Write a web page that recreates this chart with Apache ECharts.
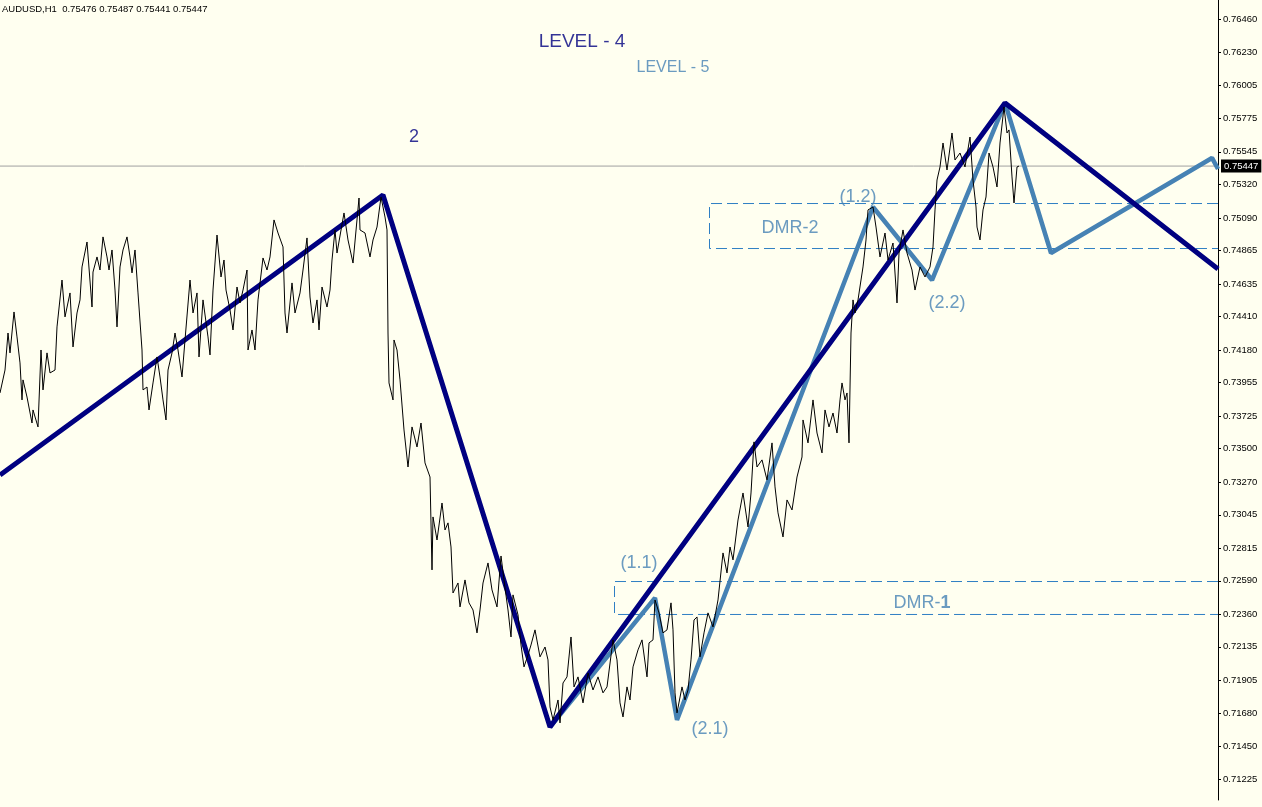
<!DOCTYPE html>
<html><head><meta charset="utf-8">
<script src="https://cdn.jsdelivr.net/npm/echarts@6/dist/echarts.min.js"></script>
<style>html,body{margin:0;padding:0;background:#FFFFF0}#c{width:1262px;height:807px}</style>
</head><body><div id="c"></div>
<script>
// ---- data ----
const header = 'AUDUSD,H1  0.75476 0.75487 0.75441 0.75447';
const lastPrice = 0.75447;
const tickLabels = ['0.76460','0.76230','0.76005','0.75775','0.75545','0.75320','0.75090','0.74865','0.74635','0.74410','0.74180','0.73955','0.73725','0.73500','0.73270','0.73045','0.72815','0.72590','0.72360','0.72135','0.71905','0.71680','0.71450','0.71225'];

const priceBars = [0,5,8,10,14,17,20,22,23,27,32,33,38,41,43,47,50,55,57,62,65,70,73,77,80,82,87,92,93,97,100,103,107,109,112,115,117,120,123,127,130,132,135,138,142,143,147,149,153,157,160,163,166,168,172,175,178,182,185,190,193,197,199,203,208,210,213,217,221,224,226,230,233,237,240,243,247,248,252,255,258,263,267,270,274,278,283,285,287,292,295,300,303,307,310,313,317,319,322,327,330,332,335,337,344,348,353,359,360,365,370,373,377,381,385,387,388,389,393,394,397,400,404,408,412,417,421,425,430,432,433,437,442,445,448,451,453,458,460,465,469,473,477,480,483,488,492,497,501,505,508,511,513,518,521,524,528,531,535,540,545,548,550,553,558,560,563,567,571,574,578,583,588,593,598,603,607,613,617,620,623,627,630,633,638,642,647,649,653,655,659,663,667,671,673,675,677,682,685,688,691,694,697,700,704,708,713,718,723,727,730,733,738,743,748,751,754,757,762,767,772,775,778,783,787,792,797,802,803,808,813,817,822,825,829,833,837,840,842,845,847,849,851,853,855,858,861,863,866,868,873,876,880,885,888,893,897,899,903,907,912,915,920,925,930,933,935,937,940,943,947,952,955,960,965,970,973,976,977,980,983,986,989,993,997,1000,1004,1007,1009,1012,1014,1017,1019];
const priceClose = [0.73884,0.74042,0.74297,0.74160,0.74442,0.74270,0.74091,0.73836,0.73974,0.73856,0.73677,0.73767,0.73650,0.74180,0.73905,0.74160,0.74022,0.74042,0.74339,0.74662,0.74408,0.74573,0.74201,0.74435,0.74525,0.74752,0.74924,0.74476,0.74717,0.74821,0.74731,0.74959,0.74821,0.74731,0.74869,0.74593,0.74339,0.74752,0.74869,0.74959,0.74821,0.74711,0.74869,0.74573,0.74180,0.73905,0.73925,0.73767,0.73953,0.74132,0.73994,0.73836,0.73698,0.74042,0.74160,0.74297,0.74180,0.73994,0.74249,0.74662,0.74435,0.74573,0.74132,0.74525,0.74270,0.74146,0.74593,0.74972,0.74683,0.74800,0.74593,0.74456,0.74318,0.74614,0.74504,0.74593,0.74731,0.74180,0.74318,0.74180,0.74525,0.74814,0.74731,0.74821,0.75076,0.74986,0.74890,0.74435,0.74297,0.74642,0.74435,0.74573,0.74731,0.74952,0.74545,0.74366,0.74525,0.74318,0.74614,0.74476,0.74593,0.74800,0.75007,0.74848,0.75124,0.74938,0.74779,0.75227,0.75007,0.74986,0.74821,0.74938,0.75027,0.75234,0.75096,0.75007,0.74297,0.73953,0.73836,0.74249,0.74180,0.73974,0.73629,0.73374,0.73650,0.73512,0.73677,0.73402,0.73305,0.72665,0.73030,0.72871,0.73126,0.72940,0.72989,0.72823,0.72506,0.72575,0.72410,0.72596,0.72438,0.72389,0.72231,0.72389,0.72575,0.72713,0.72527,0.72410,0.72761,0.72541,0.72389,0.72203,0.72493,0.72355,0.72148,0.71997,0.72079,0.72148,0.72252,0.72066,0.72134,0.72045,0.71721,0.71632,0.71769,0.71611,0.71886,0.71928,0.72203,0.71859,0.71928,0.71749,0.71955,0.71838,0.71928,0.71818,0.71859,0.72183,0.72045,0.71749,0.71652,0.71859,0.71769,0.71997,0.72114,0.72183,0.71928,0.72162,0.72183,0.72458,0.72369,0.72231,0.72252,0.72438,0.72252,0.71818,0.71680,0.71859,0.71769,0.71838,0.72045,0.72320,0.72341,0.72066,0.72231,0.72369,0.72272,0.72458,0.72782,0.72644,0.72823,0.72734,0.73009,0.73195,0.72961,0.73195,0.73547,0.73374,0.73423,0.73285,0.73540,0.73237,0.73058,0.72892,0.73147,0.73078,0.73305,0.73443,0.73698,0.73540,0.73836,0.73608,0.73471,0.73767,0.73650,0.73746,0.73608,0.73836,0.73953,0.73836,0.73884,0.73540,0.74297,0.74525,0.74435,0.74525,0.74662,0.74752,0.74938,0.75145,0.75165,0.75027,0.74821,0.74986,0.74800,0.74917,0.74504,0.74848,0.75007,0.74848,0.74731,0.74593,0.74752,0.74683,0.74752,0.74890,0.75145,0.75351,0.75441,0.75606,0.75420,0.75675,0.75489,0.75537,0.75441,0.75647,0.75351,0.75165,0.75027,0.74938,0.75145,0.75234,0.75537,0.75441,0.75303,0.75606,0.75854,0.75675,0.75696,0.75372,0.75193,0.75441,0.75447];

const level4Bars = [0,383,550,1005,1218];
const level4Values = [0.73319,0.75248,0.71583,0.75882,0.74738];
const level5Bars = [550,655,677,873,932,1005,1051,1212,1218];
const level5Values = [0.71583,0.72472,0.71632,0.75165,0.74662,0.75882,0.74848,0.75503,0.75427];

const dmrStartBars = [614.5,709.5];
const dmrTops = [0.72585,0.75189];
const dmrBottoms = [0.72358,0.74879];
const firstBar = 0;
const lastBar = 1218;

const noteTexts = ['LEVEL - 4','LEVEL - 5','2','(1.1)','(2.1)','(1.2)','(2.2)','DMR-2','DMR-{b|1}'];
const noteBars = [582,673,414,639,710,858,947,790,922];
const noteValues = [0.76302,0.76123,0.75647,0.72713,0.71570,0.75234,0.74504,0.75021,0.72438];
// ---- end data ----

const NAVY = '#000080', STEEL = '#4682B4', DASH = '#2f7fc4';
const noteStyles = [
  {color: NAVY, fontSize: 19},
  {color: STEEL, fontSize: 16},
  {color: NAVY, fontSize: 18},
  {color: STEEL, fontSize: 18},{color: STEEL, fontSize: 18},{color: STEEL, fontSize: 18},{color: STEEL, fontSize: 18},
  {color: STEEL, fontSize: 18},{color: STEEL, fontSize: 18}
];

const zip = (a, b) => a.map((x, i) => [x, b[i]]);
const dmrSeries = dmrStartBars.map((s, i) => ({
  type: 'line', silent: true, symbol: 'none', z: 1, animation: false,
  lineStyle: {color: DASH, width: 1, type: [11, 5]},
  data: [[lastBar, dmrTops[i]], [s, dmrTops[i]], [s, dmrBottoms[i]], [lastBar, dmrBottoms[i]]]
}));

const chart = echarts.init(document.getElementById('c'), null, {renderer: 'canvas'});
chart.setOption({
  animation: false,
  backgroundColor: '#FFFFF0',
  textStyle: {fontFamily: 'Liberation Sans, Arial, sans-serif'},
  title: {text: header, left: 2, top: 4, padding: 0, textStyle: {fontSize: 9.5, fontWeight: 'normal', color: '#000', fontFamily: 'Liberation Sans'}},
  grid: {left: 0, right: 44, top: 0, bottom: 7, containLabel: false},
  xAxis: {type: 'value', min: firstBar, max: lastBar, show: false},
  yAxis: {
    type: 'value', position: 'right', min: 0.71080, max: 0.76591, scale: true,
    axisLine: {show: true, onZero: false, lineStyle: {color: '#000', width: 1}},
    axisTick: {show: true, length: 3, lineStyle: {color: '#000'}, customValues: tickLabels.map(Number)},
    axisLabel: {show: true, margin: 5, color: '#000', fontSize: 9.5, fontFamily: 'Liberation Sans',
      customValues: tickLabels.map(Number), formatter: v => v.toFixed(5)},
    splitLine: {show: false}
  },
  series: [
    ...dmrSeries,
    {type: 'line', name: 'last', symbol: 'none', z: 1, silent: true,
      lineStyle: {color: '#a0a0a0', width: 1},
      data: [[firstBar, lastPrice], [lastBar, lastPrice]],
      endLabel: {show: true, distance: 3, formatter: lastPrice.toFixed(5), backgroundColor: '#000', color: '#fff',
        fontSize: 9.5, fontFamily: 'Liberation Sans', padding: [2, 3, 1, 3]}},
    {type: 'line', name: 'LEVEL-5', symbol: 'none', z: 2, silent: true,
      lineStyle: {color: STEEL, width: 4.5}, data: zip(level5Bars, level5Values)},
    {type: 'line', name: 'LEVEL-4', symbol: 'none', z: 3, silent: true,
      lineStyle: {color: NAVY, width: 5}, data: zip(level4Bars, level4Values)},
    {type: 'line', name: 'AUDUSD', symbol: 'none', z: 4, silent: true, sampling: null,
      lineStyle: {color: '#000', width: 1}, data: zip(priceBars, priceClose)},
    {type: 'scatter', silent: true, z: 5, symbolSize: 1, itemStyle: {color: 'rgba(0,0,0,0)'},
      data: noteTexts.map((t, i) => ({
        value: [noteBars[i], noteValues[i]],
        label: {show: true, position: 'inside', formatter: t, fontFamily: 'Liberation Sans',
          color: noteStyles[i].color, fontSize: noteStyles[i].fontSize,
          rich: {b: {fontWeight: 'bold', color: noteStyles[i].color, fontSize: noteStyles[i].fontSize, fontFamily: 'Liberation Sans'}}}
      }))}
  ]
});
</script></body></html>
